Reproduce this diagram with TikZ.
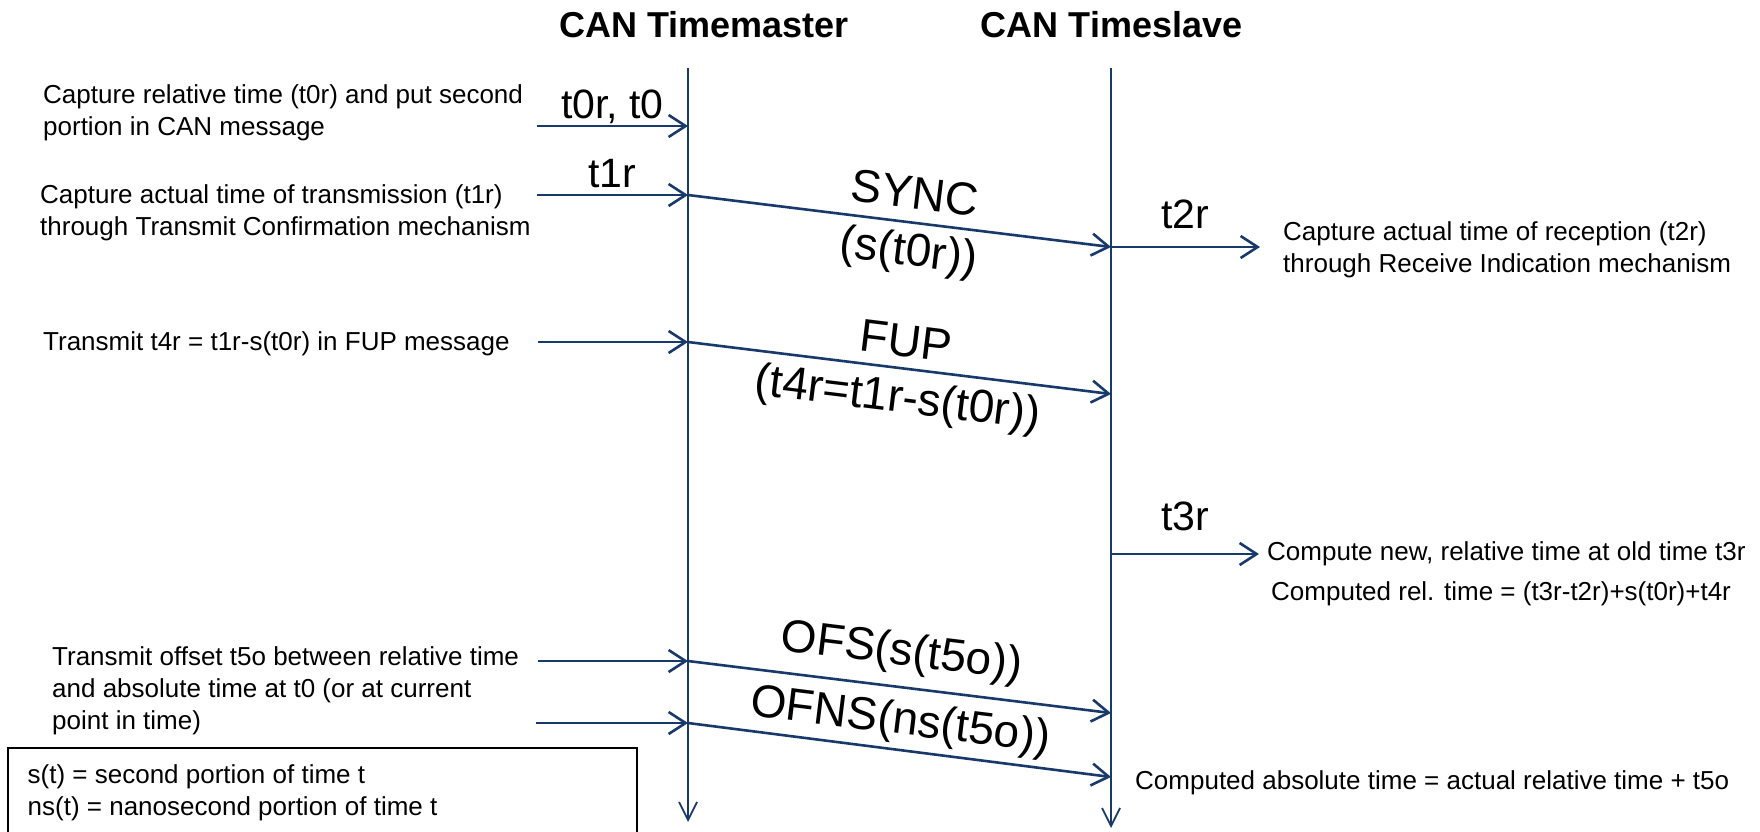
\documentclass[tikz,border=0pt]{standalone}
\usepackage{fontspec}
\setmainfont{Liberation Sans}
\usetikzlibrary{arrows.meta,calc}
\definecolor{navy}{RGB}{24,58,107}

\begin{document}
\begin{tikzpicture}[x=1pt,y=-1pt,
  lifeline/.style={draw=navy, line width=1.8pt,
    -{Straight Barb[length=18pt,width=18pt]}},
  msg/.style={draw=navy, line width=2.6pt,
    -{Straight Barb[length=17pt,width=22pt]}},
  title/.style={font=\fontsize{36}{40}\selectfont\bfseries, anchor=base, inner sep=0pt},
  note/.style={font=\fontsize{26}{32}\selectfont, align=left, anchor=base west, inner sep=0pt},
  tlabel/.style={font=\fontsize{41}{46}\selectfont, anchor=base, inner sep=0pt},
  mlabel/.style={font=\fontsize{46}{52}\selectfont, anchor=base, inner sep=0pt, rotate=-7},
  legendbox/.style={draw=black, line width=2pt},
]
\useasboundingbox (0,0) rectangle (1760,831);

% headings
\node[title] (tm) at (704,37) {CAN Timemaster};
\node[title] (ts) at (1111.5,37) {CAN Timeslave};

% lifelines
\coordinate (mtop) at (688,68);
\coordinate (mbot) at (688,822);
\coordinate (stop) at (1111,68);
\coordinate (sbot) at (1111,828);
\draw[lifeline] (mtop) -- (mbot);
\draw[lifeline] (stop) -- (sbot);

% points on the master lifeline
\coordinate (m1) at (688,126);
\coordinate (m2) at (688,195);
\coordinate (m3) at (688,342);
\coordinate (m4) at (688,661);
\coordinate (m5) at (688,723);
% points on the slave lifeline
\coordinate (s2) at (1111,247);
\coordinate (s3) at (1111,394);
\coordinate (s6) at (1111,554);
\coordinate (s4) at (1111,713);
\coordinate (s5) at (1111,777);
% free ends of the trigger arrows
\coordinate (l1) at (537,126);
\coordinate (l2) at (537,195);
\coordinate (l3) at (538,342);
\coordinate (l4) at (538,661);
\coordinate (l5) at (536,723);
\coordinate (r2) at (1260,247);
\coordinate (r6) at (1259,554);

% trigger arrows into the timemaster
\draw[msg] (l1) -- node[tlabel, yshift=8pt] (lt0) {t0r, t0} (m1);
\draw[msg] (l2) -- node[tlabel, yshift=8pt] (lt1) {t1r} (m2);
\draw[msg] (l3) -- (m3);
\draw[msg] (l4) -- (m4);
\draw[msg] (l5) -- (m5);

% messages from master to slave
\draw[msg] (m2) -- (s2);
\draw[msg] (m3) -- (s3);
\draw[msg] (m4) -- (s4);
\draw[msg] (m5) -- (s5);

\node[mlabel] (sync)  at ($(m2)!0.528!(s2)!14pt!90:(s2)$)  {SYNC};
\node[mlabel] (syncp) at ($(m2)!0.530!(s2)!-43pt!90:(s2)$) {(s(t0r))};
\node[mlabel] (fup)   at ($(m3)!0.507!(s3)!12pt!90:(s3)$)  {FUP};
\node[mlabel] (fupp)  at ($(m3)!0.504!(s3)!-44pt!90:(s3)$) {(t4r=t1r-s(t0r))};
\node[mlabel] (ofs)   at ($(m4)!0.495!(s4)!22pt!90:(s4)$)  {OFS(s(t5o))};
\node[mlabel] (ofns)  at ($(m5)!0.494!(s5)!16pt!90:(s5)$)  {OFNS(ns(t5o))};

% slave side events
\draw[msg] (s2) -- node[tlabel, yshift=19pt] (lt2) {t2r} (r2);
\draw[msg] (s6) -- node[tlabel, yshift=24pt] (lt3) {t3r} (r6);

% descriptions on the master side
\node[note, anchor=north west] (n1) at (43,84.5)
  {Capture relative time (t0r) and put second\\portion in CAN message};
\node[note, anchor=north west] (n2) at (40,184.5)
  {Capture actual time of transmission (t1r)\\through Transmit Confirmation mechanism};
\node[note] (n3) at (43,350) {Transmit t4r = t1r-s(t0r) in FUP message};
\node[note, anchor=north west] (n4) at (52,646.5)
  {Transmit offset t5o between relative time\\and absolute time at t0 (or at current\\point in time)};

% descriptions on the slave side
\node[note, anchor=north west] (d1) at (1283,221.5)
  {Capture actual time of reception (t2r)\\through Receive Indication mechanism};
\node[note] (d2) at (1267,560) {Compute new, relative time at old time t3r};
\node[note] (d3) at (1271,600) {Computed rel. time = (t3r-t2r)+s(t0r)+t4r};
\node[note] (d4) at (1135,789) {Computed absolute time = actual relative time + t5o};

% legend
\draw[legendbox] (7.5,840) -- (7.5,748) -- (637,748) -- (637,840);
\node[note, anchor=north west] (leg) at (27.5,764.5)
  {s(t) = second portion of time t\\ns(t) = nanosecond portion of time t};
\end{tikzpicture}
\end{document}
